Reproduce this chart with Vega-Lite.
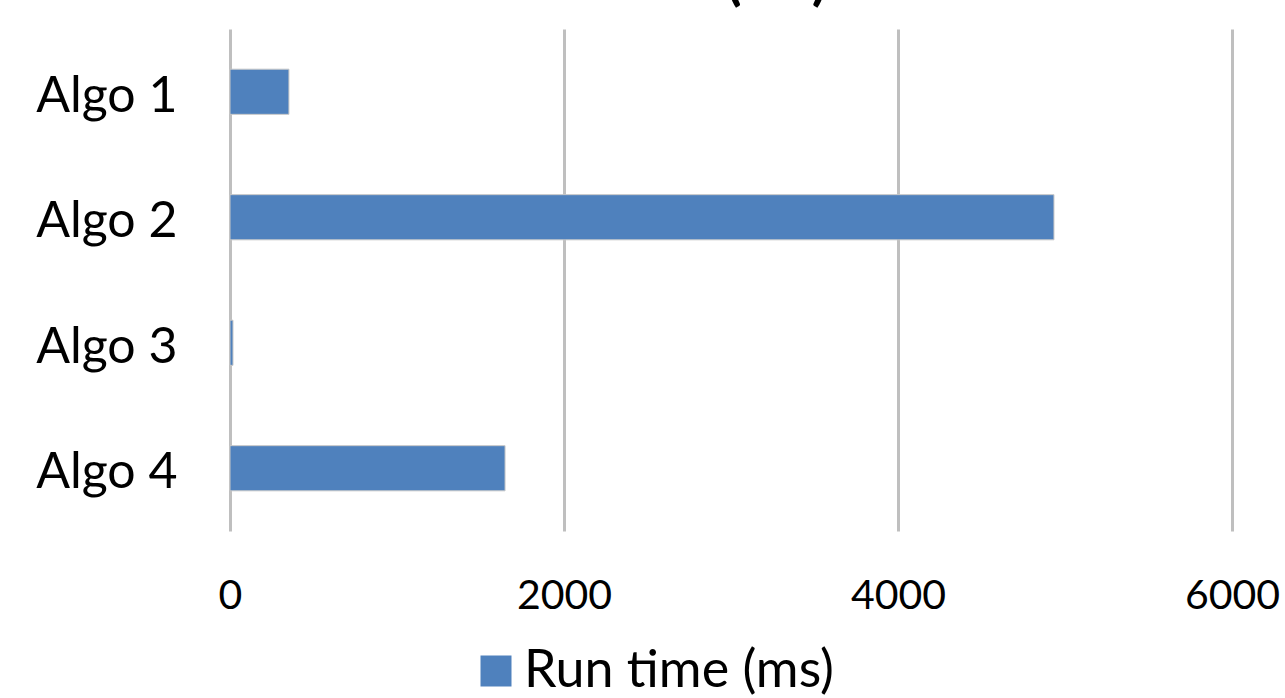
{
  "$schema": "https://vega.github.io/schema/vega-lite/v6.json",
  "autosize": {"type": "none"},
  "width": 1002,
  "height": 502,
  "padding": {"left": 230, "top": 29, "right": 53, "bottom": 167},
  "background": "white",
  "title": {
    "text": "Run time (ms)",
    "font": "Lato",
    "fontSize": 56,
    "fontWeight": "bold",
    "color": "black",
    "anchor": "middle",
    "frame": "bounds",
    "baseline": "alphabetic",
    "offset": 10,
    "dy": 36
  },
  "data": {
    "values": [
      {"algo": "Algo 1", "time": 353, "series": "Run time (ms)"},
      {"algo": "Algo 2", "time": 4934, "series": "Run time (ms)"},
      {"algo": "Algo 3", "time": 18, "series": "Run time (ms)"},
      {"algo": "Algo 4", "time": 1647, "series": "Run time (ms)"}
    ]
  },
  "mark": {"type": "bar", "stroke": "#c8c8c8", "strokeWidth": 1},
  "encoding": {
    "y": {
      "field": "algo",
      "type": "nominal",
      "sort": null,
      "scale": {"paddingInner": 0.64, "paddingOuter": 0.32},
      "axis": {
        "title": null,
        "domain": false,
        "ticks": false,
        "labelFont": "Lato",
        "labelFontSize": 50,
        "labelColor": "black",
        "labelPadding": 53,
        "labelOffset": 5
      }
    },
    "x": {
      "field": "time",
      "type": "quantitative",
      "scale": {"domain": [0, 6000], "nice": false},
      "axis": {
        "title": null,
        "values": [0, 2000, 4000, 6000],
        "domain": false,
        "ticks": false,
        "grid": true,
        "gridColor": "#bfbfbf",
        "gridWidth": 3,
        "labelFont": "Lato",
        "labelFontSize": 41,
        "labelColor": "black",
        "labelPadding": 45,
        "labelFlush": false,
        "format": "d"
      }
    },
    "color": {
      "field": "series",
      "type": "nominal",
      "scale": {"range": ["#4F81BD"]},
      "legend": {
        "title": null,
        "orient": "none",
        "legendX": 240,
        "legendY": 616,
        "symbolType": "square",
        "symbolSize": 961,
        "symbolStrokeWidth": 0,
        "labelFont": "Lato",
        "labelFontSize": 52,
        "labelColor": "black",
        "labelOffset": 2,
        "labelLimit": 0
      }
    }
  },
  "config": {"view": {"stroke": null}}
}
